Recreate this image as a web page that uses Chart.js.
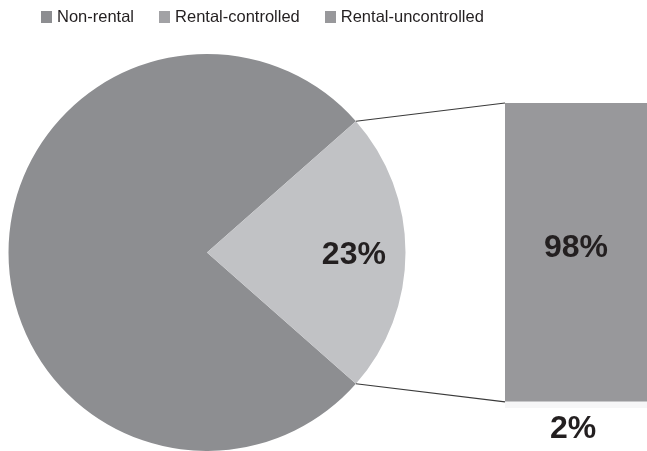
<!DOCTYPE html>
<html>
<head>
<meta charset="utf-8">
<script src="https://cdn.jsdelivr.net/npm/chart.js@4.4.1/dist/chart.umd.min.js"></script>
<style>
  html, body { margin: 0; padding: 0; background: #fff; width: 647px; height: 451px; overflow: hidden; }
  #wrap { position: relative; width: 647px; height: 451px; }
  #pieChart { position: absolute; left: 0; top: 0; }
  #barChart { position: absolute; left: 505px; top: 103px; z-index: 2; }
  #legend { position: absolute; top: 7px; left: 41px; display: flex; font-family: "Liberation Sans", Arial, sans-serif; font-size: 16.5px; color: #231f20; z-index: 3; }
  #legend .item { display: flex; align-items: center; margin-right: 25px; }
  #legend .box { width: 11px; height: 12px; margin-right: 5px; }
</style>
</head>
<body>
<div id="wrap">
  <canvas id="pieChart" width="647" height="451"></canvas>
  <canvas id="barChart" width="142" height="345"></canvas>
  <div id="legend"></div>
</div>
<script>
// pie: share of dwellings
let pieLabels = ['Non-rental', 'Rental'];
let pieValues = [77, 23];
let pieColors = ['#8d8e91', '#c1c2c5'];

// bar: breakdown of the rental slice
let barLabels = ['Rental-controlled', 'Rental-uncontrolled'];
let barValues = [2, 98];
let barColors = ['#f6f6f7', '#98989b'];

let legendLabels = ['Non-rental', 'Rental-controlled', 'Rental-uncontrolled'];
let legendColors = ['#8d8e91', '#a2a2a5', '#98989b'];

let labelFont = 'bold 32px "Liberation Sans", Arial, sans-serif';

// html legend
let legendDiv = document.getElementById('legend');
legendLabels.forEach(function(name, i){
    let item = document.createElement('div');
    item.className = 'item';
    let box = document.createElement('span');
    box.className = 'box';
    box.style.background = legendColors[i];
    let txt = document.createElement('span');
    txt.textContent = name;
    item.appendChild(box);
    item.appendChild(txt);
    legendDiv.appendChild(item);
});

// bar chart first, the pie reads its bar positions for the connectors
let barLabelPlugin = {
    id: 'barLabels',
    afterDraw: function(chart){
        let ctx = chart.ctx;
        ctx.save();
        ctx.font = labelFont;
        ctx.fillStyle = '#231f20';
        ctx.textAlign = 'center';
        ctx.textBaseline = 'middle';
        let big = chart.getDatasetMeta(1).data[0];
        ctx.fillText(barValues[1] + '%', big.x, (big.y + big.base) / 2 - 4);
        let small = chart.getDatasetMeta(0).data[0];
        ctx.fillText(barValues[0] + '%', small.x - 3, small.base + 21);
        ctx.restore();
    }
};

let barChart = new Chart(document.getElementById('barChart'), {
    type: 'bar',
    data: {
        labels: ['Rental'],
        datasets: barLabels.map(function(name, i){
            return {
                label: name,
                data: [barValues[i]],
                backgroundColor: barColors[i],
                borderWidth: 0,
                categoryPercentage: 1,
                barPercentage: 1
            };
        })
    },
    options: {
        responsive: false,
        animation: false,
        layout: { padding: { top: 0, bottom: 40, left: 0, right: 0 } },
        plugins: { legend: { display: false }, tooltip: { enabled: false } },
        scales: {
            x: { stacked: true, display: false },
            y: { stacked: true, display: false, min: 0, max: 100 }
        }
    },
    plugins: [barLabelPlugin]
});

let connectorPlugin = {
    id: 'connectors',
    afterDraw: function(chart){
        let ctx = chart.ctx;
        let arc = chart.getDatasetMeta(0).data[1];
        let barCanvas = document.getElementById('barChart');
        let offX = barCanvas.offsetLeft, offY = barCanvas.offsetTop;
        let seg = barChart.getDatasetMeta(1).data[0];
        let left = offX + seg.x - seg.width / 2;

        ctx.save();
        ctx.strokeStyle = '#3a3a3a';
        ctx.lineWidth = 1.2;
        ctx.beginPath();
        ctx.moveTo(arc.x + arc.outerRadius * Math.cos(arc.startAngle), arc.y + arc.outerRadius * Math.sin(arc.startAngle));
        ctx.lineTo(left, offY + seg.y);
        ctx.moveTo(arc.x + arc.outerRadius * Math.cos(arc.endAngle), arc.y + arc.outerRadius * Math.sin(arc.endAngle));
        ctx.lineTo(left, offY + seg.base);
        ctx.stroke();

        // percentage label in the rental slice
        let mid = (arc.startAngle + arc.endAngle) / 2;
        ctx.font = labelFont;
        ctx.fillStyle = '#231f20';
        ctx.textAlign = 'center';
        ctx.textBaseline = 'middle';
        ctx.fillText(pieValues[1] + '%', arc.x + arc.outerRadius * 0.74 * Math.cos(mid), arc.y + arc.outerRadius * 0.74 * Math.sin(mid) + 3);
        ctx.restore();
    }
};

let total = pieValues.reduce(function(a, b){ return a + b; }, 0);
new Chart(document.getElementById('pieChart'), {
    type: 'pie',
    data: {
        labels: pieLabels,
        datasets: [{
            data: pieValues,
            backgroundColor: pieColors,
            borderWidth: 0
        }]
    },
    options: {
        responsive: false,
        animation: false,
        // rental slice centred on the right side
        rotation: 90 + pieValues[1] / total * 180,
        layout: { padding: { left: 8, right: 241, top: 54, bottom: -1 } },
        plugins: { legend: { display: false }, tooltip: { enabled: false } }
    },
    plugins: [connectorPlugin]
});
</script>
</body>
</html>
